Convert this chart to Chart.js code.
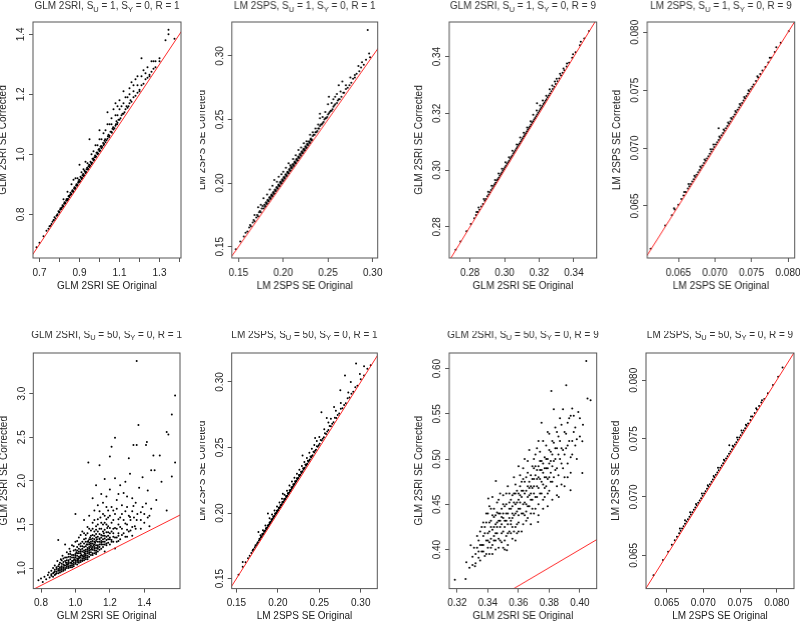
<!DOCTYPE html>
<html>
<head>
<meta charset="utf-8">
<script src="https://cdn.jsdelivr.net/npm/chart.js@4.4.0/dist/chart.umd.min.js"></script>
<style>
html, body { margin:0; padding:0; background:#fff; width:800px; height:623px; overflow:hidden; position:relative; }
.panel { position:absolute; }
</style>
</head>
<body>
<script>
// ---- data: [original SE, corrected SE] ----
const glmSu1R1 = [[0.685,0.69],[0.70,0.705],[0.72,0.727],[0.735,0.745],[0.745,0.752],[0.75,0.76],[0.76,0.768],[0.765,0.775],[0.77,0.78],[0.775,0.79],[0.78,0.786],[0.785,0.795],[0.79,0.80],[0.795,0.81],[0.80,0.808],[0.805,0.82],[0.81,0.818],[0.815,0.83],[0.82,0.827],[0.825,0.84],[0.83,0.838],[0.835,0.85],[0.84,0.846],[0.845,0.86],[0.85,0.858],[0.855,0.872],[0.86,0.868],[0.865,0.88],[0.87,0.877],[0.875,0.89],[0.88,0.888],[0.885,0.90],[0.89,0.898],[0.895,0.91],[0.90,0.908],[0.905,0.925],[0.91,0.918],[0.915,0.93],[0.92,0.928],[0.925,0.945],[0.93,0.938],[0.935,0.95],[0.94,0.949],[0.945,0.96],[0.95,0.958],[0.955,0.975],[0.96,0.968],[0.965,0.985],[0.97,0.979],[0.975,0.99],[0.98,0.99],[0.985,1.005],[0.99,1.0],[0.995,1.015],[1.00,1.01],[1.005,1.025],[1.01,1.02],[1.02,1.03],[1.025,1.045],[1.03,1.04],[1.04,1.052],[1.045,1.065],[1.05,1.062],[1.06,1.075],[1.065,1.085],[1.07,1.083],[1.08,1.095],[1.085,1.11],[1.09,1.105],[1.10,1.115],[1.11,1.13],[1.12,1.135],[1.13,1.15],[1.14,1.155],[1.15,1.17],[1.16,1.175],[1.18,1.195],[1.20,1.215],[1.22,1.235],[1.24,1.255],[1.26,1.275],[1.28,1.29],[1.30,1.31],
  [0.755,0.762],[0.772,0.781],[0.788,0.797],[0.798,0.806],[0.803,0.815],[0.812,0.823],[0.818,0.826],[0.823,0.835],[0.828,0.836],[0.833,0.845],[0.838,0.851],[0.843,0.851],[0.848,0.862],[0.853,0.864],[0.858,0.866],[0.863,0.877],[0.868,0.874],[0.873,0.886],[0.878,0.884],[0.883,0.896],[0.888,0.895],[0.893,0.905],[0.898,0.915],[0.903,0.911],[0.908,0.922],[0.913,0.921],[0.918,0.934],[0.923,0.930],[0.928,0.942],[0.933,0.941],[0.938,0.955],[0.943,0.951],[0.948,0.965],[0.953,0.962],[0.958,0.972],[0.963,0.972],[0.968,0.985],[0.973,0.982],[0.978,0.996],[0.983,0.993],[0.988,1.006],[0.993,1.003],[0.998,1.018],[1.003,1.013],[1.008,1.028],[1.013,1.024],[1.018,1.038],[1.023,1.034],[1.028,1.05],[1.035,1.047],[1.042,1.06],[1.048,1.058],[1.055,1.075],[1.062,1.072],[1.068,1.09],[1.075,1.087],[1.082,1.10],[1.088,1.10],[1.095,1.115],[1.105,1.12],[1.115,1.135],[1.125,1.14],[1.135,1.16],[1.145,1.16],[1.155,1.18],[1.17,1.19],[1.19,1.205],[1.21,1.23],[1.23,1.25],[1.25,1.265],[1.27,1.285],
  [0.82,0.85],[0.84,0.875],[0.86,0.90],[0.87,0.915],[0.88,0.92],[0.89,0.92],[0.90,0.965],[0.91,0.94],[0.92,0.95],[0.93,0.975],[0.94,0.97],[0.95,1.05],[0.96,1.0],[0.97,1.01],[0.98,1.03],[0.99,1.03],[1.0,1.08],[1.0,1.05],[1.01,1.05],[1.02,1.07],[1.03,1.08],[1.04,1.14],[1.04,1.10],[1.05,1.10],[1.06,1.12],[1.06,1.10],[1.07,1.15],[1.08,1.17],[1.08,1.13],[1.09,1.16],[1.09,1.13],[1.10,1.18],[1.10,1.15],[1.11,1.16],[1.12,1.21],[1.12,1.17],[1.13,1.19],[1.14,1.19],[1.15,1.20],[1.15,1.22],[1.16,1.24],[1.17,1.21],[1.17,1.23],[1.18,1.25],[1.19,1.23],[1.19,1.26],[1.20,1.21],[1.21,1.32],[1.21,1.26],[1.22,1.28],[1.23,1.27],[1.24,1.29],[1.25,1.26],[1.26,1.31],[1.27,1.31],[1.28,1.31],[1.30,1.32],[1.33,1.38],[1.345,1.40],[1.345,1.415],[1.375,1.385]];

const lmSu1R1 = [[0.147,0.148],[0.152,0.154],[0.156,0.158],[0.160,0.162],[0.162,0.165],[0.164,0.166],[0.166,0.169],[0.168,0.170],[0.170,0.173],[0.172,0.174],[0.173,0.177],[0.175,0.177],[0.176,0.180],[0.178,0.180],[0.179,0.183],[0.180,0.182],[0.181,0.185],[0.182,0.184],[0.183,0.187],[0.184,0.186],[0.185,0.189],[0.186,0.188],[0.187,0.191],[0.188,0.190],[0.189,0.193],[0.190,0.192],[0.191,0.195],[0.192,0.194],[0.193,0.197],[0.194,0.196],[0.195,0.199],[0.196,0.198],[0.197,0.201],[0.198,0.200],[0.199,0.203],[0.200,0.202],[0.201,0.205],[0.202,0.204],[0.203,0.207],[0.204,0.206],[0.205,0.209],[0.206,0.208],[0.207,0.211],[0.208,0.210],[0.209,0.213],[0.210,0.212],[0.211,0.215],[0.212,0.214],[0.213,0.217],[0.214,0.216],[0.215,0.219],[0.216,0.218],[0.217,0.221],[0.218,0.220],[0.219,0.223],[0.220,0.222],[0.221,0.225],[0.222,0.224],[0.223,0.227],[0.224,0.226],[0.225,0.229],[0.226,0.228],[0.227,0.231],[0.228,0.230],[0.229,0.233],[0.230,0.232],[0.231,0.235],[0.232,0.234],[0.233,0.237],[0.235,0.238],[0.236,0.240],[0.238,0.241],[0.240,0.243],[0.241,0.245],[0.243,0.246],[0.245,0.248],[0.247,0.251],[0.249,0.252],[0.251,0.255],[0.253,0.257],[0.255,0.258],[0.257,0.261],[0.260,0.263],[0.262,0.266],[0.265,0.268],[0.268,0.271],[0.272,0.275],[0.276,0.279],[0.280,0.283],[0.285,0.288],[0.290,0.293],[0.297,0.299],
  [0.158,0.161],[0.163,0.167],[0.167,0.171],[0.171,0.175],[0.174,0.178],[0.177,0.182],[0.1795,0.1815],[0.1805,0.1845],[0.1815,0.1835],[0.1825,0.1865],[0.1835,0.1855],[0.1845,0.1885],[0.1855,0.1875],[0.1865,0.1905],[0.1875,0.1895],[0.1885,0.1925],[0.1895,0.1915],[0.1905,0.1945],[0.1915,0.1935],[0.1925,0.1965],[0.1935,0.1955],[0.1945,0.1985],[0.1955,0.1975],[0.1965,0.2005],[0.1975,0.1995],[0.1985,0.2025],[0.1995,0.2015],[0.2005,0.2045],[0.2015,0.2035],[0.2025,0.2065],[0.2035,0.2055],[0.2045,0.2085],[0.2055,0.2075],[0.2065,0.2105],[0.2075,0.2095],[0.2085,0.2125],[0.2095,0.2115],[0.2105,0.2145],[0.2115,0.2135],[0.2125,0.2165],[0.2135,0.2155],[0.2145,0.2185],[0.2155,0.2175],[0.2165,0.2205],[0.2175,0.2195],[0.2185,0.2225],[0.2195,0.2215],[0.2205,0.2245],[0.2215,0.2235],[0.2225,0.2265],[0.2235,0.2255],[0.2245,0.2285],[0.2255,0.2275],[0.2265,0.2305],[0.2275,0.2295],[0.2285,0.2325],[0.2295,0.2315],[0.2305,0.2345],[0.2315,0.2335],[0.234,0.238],[0.237,0.240],[0.239,0.243],[0.242,0.246],[0.244,0.247],[0.246,0.250],[0.248,0.251],[0.250,0.254],[0.252,0.256],[0.254,0.257],[0.256,0.260],[0.258,0.262],[0.261,0.265],[0.263,0.266],[0.267,0.271],[0.270,0.274],[0.274,0.277],[0.278,0.282],[0.282,0.286],[0.287,0.291],
  [0.168,0.175],[0.172,0.181],[0.175,0.183],[0.178,0.188],[0.182,0.191],[0.185,0.195],[0.188,0.198],[0.190,0.2025],[0.193,0.201],[0.195,0.205],[0.198,0.207],[0.200,0.209],[0.203,0.212],[0.206,0.2156],[0.208,0.214],[0.211,0.219],[0.214,0.222],[0.217,0.226],[0.220,0.228],[0.223,0.2313],[0.226,0.233],[0.230,0.238],[0.233,0.240],[0.236,0.243],[0.239,0.246],[0.241,0.251],[0.241,0.2545],[0.244,0.252],[0.247,0.256],[0.250,0.262],[0.251,0.268],[0.254,0.263],[0.256,0.266],[0.258,0.268],[0.260,0.270],[0.262,0.277],[0.264,0.272],[0.266,0.280],[0.270,0.277],[0.275,0.283],[0.280,0.285],[0.284,0.292],[0.288,0.295],[0.2925,0.297],[0.296,0.302],[0.2944,0.3205]];

const glmSu1R9 = [[0.2717,0.2719],[0.2745,0.2748],[0.2780,0.2784],[0.2805,0.2810],[0.2825,0.2830],[0.2835,0.2842],[0.2845,0.2852],[0.2855,0.2860],[0.2865,0.2872],[0.2875,0.2880],[0.2885,0.2892],[0.2892,0.2898],[0.2900,0.2908],[0.2908,0.2914],[0.2915,0.2922],[0.2922,0.2930],[0.2930,0.2936],[0.2936,0.2944],[0.2942,0.2950],[0.2948,0.2955],[0.2955,0.2963],[0.2960,0.2968],[0.2966,0.2973],[0.2972,0.2980],[0.2978,0.2986],[0.2984,0.2991],[0.2990,0.2998],[0.2996,0.3004],[0.3002,0.3010],[0.3008,0.3015],[0.3014,0.3022],[0.3020,0.3028],[0.3026,0.3033],[0.3032,0.3040],[0.3038,0.3046],[0.3044,0.3051],[0.3050,0.3058],[0.3056,0.3064],[0.3062,0.3070],[0.3068,0.3076],[0.3074,0.3081],[0.3080,0.3088],[0.3086,0.3094],[0.3092,0.3100],[0.3098,0.3106],[0.3104,0.3112],[0.3110,0.3118],[0.3116,0.3124],[0.3122,0.3130],[0.3128,0.3136],[0.3134,0.3142],[0.3140,0.3148],[0.3146,0.3154],[0.3152,0.3160],[0.3158,0.3167],[0.3164,0.3172],[0.3170,0.3178],[0.3176,0.3184],[0.3182,0.3190],[0.3188,0.3196],[0.3194,0.3202],[0.3200,0.3208],[0.3206,0.3214],[0.3212,0.3220],[0.3218,0.3226],[0.3224,0.3233],[0.3230,0.3238],[0.3236,0.3244],[0.3242,0.3250],[0.3248,0.3257],[0.3255,0.3263],[0.3262,0.3270],[0.3270,0.3278],[0.3278,0.3286],[0.3286,0.3294],[0.3295,0.3303],[0.3305,0.3313],[0.3315,0.3323],[0.3325,0.3333],[0.3335,0.3343],[0.3345,0.3352],[0.3358,0.3365],[0.3372,0.3378],[0.3390,0.3396],[0.3410,0.3415],[0.3435,0.3440],[0.3460,0.3464],[0.3488,0.3490],
  [0.2838,0.2852],[0.2850,0.2868],[0.2880,0.2898],[0.2905,0.2924],[0.2925,0.2945],[0.2945,0.2965],[0.2965,0.2988],[0.2985,0.3005],[0.3005,0.3028],[0.3025,0.3045],[0.3045,0.3068],[0.3070,0.3090],[0.3090,0.3115],[0.3110,0.3132],[0.3130,0.3150],[0.3150,0.3172],[0.3165,0.3195],[0.3187,0.3236],[0.3185,0.3210],[0.3205,0.3228],[0.3220,0.3245],[0.3240,0.3262],[0.3260,0.3285],[0.3275,0.3298],[0.3290,0.3312],[0.3300,0.3322],[0.3320,0.3340],[0.3340,0.3358],[0.3360,0.3376],[0.3395,0.3408],[0.3440,0.3452]];

const lmSu1R9 = [[0.0612,0.0613],[0.0632,0.0633],[0.0641,0.0642],[0.0645,0.0647],[0.0650,0.0651],[0.0654,0.0656],[0.0657,0.0659],[0.0660,0.0662],[0.0663,0.0665],[0.0665,0.0667],[0.0667,0.0669],[0.0669,0.0671],[0.0671,0.0673],[0.0673,0.0675],[0.0675,0.0677],[0.0677,0.0679],[0.0679,0.0681],[0.0681,0.0683],[0.0683,0.0685],[0.0685,0.0687],[0.0687,0.0689],[0.0689,0.0691],[0.0691,0.0693],[0.0693,0.0695],[0.0695,0.0697],[0.0697,0.0699],[0.0699,0.0701],[0.0701,0.0703],[0.0703,0.0705],[0.0705,0.0707],[0.0707,0.0709],[0.0709,0.0711],[0.0711,0.0713],[0.0713,0.0715],[0.0715,0.0717],[0.0717,0.0719],[0.0719,0.0721],[0.0721,0.0723],[0.0723,0.0725],[0.0725,0.0727],[0.0727,0.0729],[0.0729,0.0731],[0.0731,0.0733],[0.0733,0.0735],[0.0735,0.0737],[0.0737,0.0739],[0.0739,0.0741],[0.0741,0.0743],[0.0743,0.0745],[0.0745,0.0747],[0.0747,0.0749],[0.0749,0.0751],[0.0751,0.0753],[0.0753,0.0755],[0.0756,0.0758],[0.0759,0.0761],[0.0762,0.0764],[0.0765,0.0767],[0.0769,0.0770],[0.0773,0.0774],[0.0777,0.0778],[0.0782,0.0783],[0.0790,0.0791],[0.0801,0.0801],
  [0.0644,0.0648],[0.0658,0.0662],[0.0664,0.0669],[0.0672,0.0676],[0.0680,0.0684],[0.0686,0.0690],[0.0694,0.0699],[0.0698,0.0703],[0.0705,0.0717],[0.0706,0.0710],[0.0712,0.0716],[0.0718,0.0722],[0.0722,0.0726],[0.0728,0.0732],[0.0734,0.0738],[0.0740,0.0744],[0.0746,0.0750],[0.0758,0.0762],[0.0775,0.0778],[0.0784,0.0787]];

const glmSu50R1 = [[0.785,0.86],[0.80,0.88],[0.81,0.84],[0.82,0.90],[0.83,0.87],[0.84,0.92],[0.845,0.95],[0.85,0.89],[0.86,0.97],[0.86,0.93],[0.87,0.90],[0.87,1.00],[0.875,0.95],[0.88,0.98],[0.88,1.03],[0.885,0.93],[0.89,0.96],[0.89,1.01],[0.895,1.08],[0.90,0.94],[0.90,0.99],[0.90,1.32],[0.905,1.04],[0.91,0.97],[0.91,1.01],[0.915,1.10],[0.92,0.96],[0.92,1.05],[0.92,1.00],[0.925,1.14],[0.93,0.99],[0.93,1.07],[0.935,1.03],[0.94,1.00],[0.94,1.12],[0.94,1.27],[0.945,1.06],[0.95,1.02],[0.95,1.09],[0.95,1.18],[0.955,1.04],[0.96,1.00],[0.96,1.13],[0.96,1.07],[0.965,1.22],[0.97,1.03],[0.97,1.10],[0.97,1.16],[0.975,1.06],[0.98,1.01],[0.98,1.12],[0.98,1.26],[0.985,1.08],[0.99,1.04],[0.99,1.15],[0.99,1.20],[0.995,1.10],[1.00,1.05],[1.00,1.12],[1.00,1.30],[1.00,1.62],[1.005,1.18],[1.01,1.07],[1.01,1.14],[1.01,1.24],[1.015,1.10],[1.02,1.06],[1.02,1.17],[1.02,1.35],[1.025,1.12],[1.03,1.09],[1.03,1.21],[1.03,1.28],[1.035,1.15],[1.04,1.08],[1.04,1.19],[1.04,1.42],[1.045,1.13],[1.05,1.11],[1.05,1.24],[1.05,1.33],[1.05,1.55],[1.055,1.17],[1.06,1.12],[1.06,1.21],[1.06,1.38],[1.065,1.27],[1.07,1.14],[1.07,1.19],[1.07,1.47],[1.075,1.31],[1.075,2.21],[1.08,1.16],[1.08,1.24],[1.08,1.60],[1.085,1.35],[1.09,1.18],[1.09,1.28],[1.09,1.43],[1.095,1.22],[1.10,1.15],[1.10,1.31],[1.10,1.52],[1.10,1.80],[1.105,1.26],[1.11,1.20],[1.11,1.37],[1.11,1.66],[1.115,1.29],[1.12,1.23],[1.12,1.44],[1.12,1.95],[1.125,1.33],[1.13,1.26],[1.13,1.50],[1.13,1.72],[1.14,1.30],[1.14,1.39],[1.14,2.18],[1.145,1.58],[1.15,1.27],[1.15,1.45],[1.15,1.85],[1.16,1.33],[1.16,1.62],[1.165,1.40],[1.17,1.30],[1.17,1.52],[1.17,2.02],[1.18,1.36],[1.18,1.70],[1.185,1.46],[1.19,1.33],[1.19,1.58],[1.20,1.40],[1.20,2.28],[1.20,1.90],[1.21,1.52],[1.21,2.39],[1.22,1.36],[1.22,1.66],[1.23,2.495],[1.23,1.46],[1.23,2.03],[1.24,1.78],[1.25,1.40],[1.25,1.56],[1.26,1.47],[1.26,1.95],[1.27,1.62],[1.27,1.38],[1.28,1.86],[1.29,1.51],[1.29,1.99],[1.30,1.44],[1.30,1.70],[1.31,2.26],[1.317,2.08],[1.317,1.585],[1.32,1.43],[1.33,1.80],[1.337,1.71],[1.337,2.41],[1.345,1.48],[1.356,3.374],[1.356,1.55],[1.356,2.41],[1.366,2.64],[1.37,1.92],[1.38,1.64],[1.39,2.04],[1.40,1.52],[1.41,2.41],[1.41,1.74],[1.415,2.445],[1.42,1.89],[1.43,1.60],[1.44,2.12],[1.453,2.29],[1.46,2.12],[1.47,1.78],[1.49,2.29],[1.50,1.99],[1.53,2.56],[1.53,1.66],[1.54,2.53],[1.56,2.76],[1.56,2.05],[1.579,2.98],[1.579,2.21],
  [1.00,1.16],[1.01,1.20],[1.02,1.22],[1.03,1.14],[1.04,1.25],[1.05,1.20],[1.06,1.16],[1.06,1.30],[1.07,1.23],[1.08,1.29],[1.09,1.24],[1.10,1.21],[1.10,1.38],[1.11,1.27],[1.12,1.31],[1.13,1.36],[1.14,1.24],[1.15,1.35],[1.16,1.42],[1.17,1.37],[1.18,1.50],[0.96,1.09],[0.97,1.13],[0.98,1.05],[0.99,1.09],[0.95,1.06],[0.93,1.04],[1.00,1.09],[1.01,1.11],[1.02,1.13],[1.03,1.17],[1.04,1.11],[1.05,1.15],[1.07,1.27],[1.08,1.20],[1.09,1.33],[1.11,1.24],[1.12,1.18],[1.13,1.22],[1.14,1.34],[1.15,1.31],[1.16,1.27],[1.18,1.28],[1.19,1.41],[1.20,1.33],[1.21,1.30],[1.22,1.45],[1.24,1.35],
  [1.07,1.10],[1.12,1.16],[1.17,1.19],[1.23,1.225],[1.25,1.31],[1.30,1.36],[1.33,1.37],[1.38,1.45],[1.43,1.48],
  [0.86,0.91],[0.87,0.94],[0.88,0.92],[0.88,0.96],[0.89,0.94],[0.89,0.99],[0.90,0.97],[0.90,1.02],[0.91,0.95],[0.91,0.99],[0.91,1.06],[0.92,0.98],[0.92,1.02],[0.92,1.09],[0.93,0.97],[0.93,1.01],[0.93,1.11],[0.94,0.98],[0.94,1.03],[0.94,1.08],[0.95,1.00],[0.95,1.04],[0.95,1.12],[0.96,1.02],[0.96,1.05],[0.96,1.16],[0.97,1.01],[0.97,1.06],[0.97,1.19],[0.98,1.03],[0.98,1.08],[0.98,1.15],[0.99,1.02],[0.99,1.06],[0.99,1.12],[0.99,1.25],[1.00,1.07],[1.00,1.14],[1.00,1.21],[1.01,1.04],[1.01,1.09],[1.01,1.17],[1.01,1.31],[1.02,1.08],[1.02,1.11],[1.02,1.19],[1.02,1.27],[1.03,1.07],[1.03,1.12],[1.03,1.19],[1.03,1.25],[1.03,1.38],[1.04,1.09],[1.04,1.14],[1.04,1.22],[1.04,1.30],[1.05,1.09],[1.05,1.13],[1.05,1.18],[1.05,1.28],[1.05,1.40],[1.06,1.10],[1.06,1.14],[1.06,1.19],[1.06,1.25],[1.06,1.34],[1.07,1.12],[1.07,1.17],[1.07,1.21],[1.07,1.30],[1.07,1.40],[1.08,1.13],[1.08,1.18],[1.08,1.22],[1.08,1.27],[1.08,1.33],[1.08,1.45],[1.09,1.15],[1.09,1.21],[1.09,1.26],[1.09,1.30],[1.09,1.37],[1.10,1.17],[1.10,1.24],[1.10,1.28],[1.10,1.34],[1.10,1.45],[1.11,1.17],[1.11,1.22],[1.11,1.30],[1.11,1.33],[1.11,1.42],[1.11,1.55],[1.12,1.20],[1.12,1.26],[1.12,1.35],[1.12,1.39],[1.12,1.48],[1.13,1.19],[1.13,1.24],[1.13,1.30],[1.13,1.42],[1.13,1.56],[1.14,1.21],[1.14,1.27],[1.14,1.33],[1.14,1.45],[1.14,1.65],[1.15,1.22],[1.15,1.29],[1.15,1.38],[1.15,1.52],[1.16,1.24],[1.16,1.30],[1.16,1.37],[1.16,1.50],[1.16,1.75],[1.17,1.27],[1.17,1.34],[1.17,1.44],[1.17,1.60],[1.18,1.26],[1.18,1.32],[1.18,1.41],[1.18,1.56],[1.18,1.82],[1.19,1.29],[1.19,1.37],[1.19,1.48],[1.19,1.66],[1.20,1.27],[1.20,1.35],[1.20,1.46],[1.20,1.60],[1.21,1.32],[1.21,1.42],[1.21,1.70],[1.22,1.30],[1.22,1.40],[1.22,1.55],[1.23,1.35],[1.23,1.62],[1.24,1.30],[1.24,1.45],[1.24,1.68],[1.25,1.37],[1.25,1.50],[1.25,1.85],[1.26,1.33],[1.26,1.58],[1.27,1.45],[1.27,1.72],[1.28,1.40],[1.28,1.55],[1.29,1.36],[1.29,1.65],[1.30,1.50],[1.30,1.82],[1.31,1.42],[1.31,1.60],[1.32,1.55],[1.33,1.47],[1.33,1.65],[1.34,1.58],[1.35,1.45],[1.35,1.75],[1.36,1.62],[1.38,1.55],[1.39,1.70],[1.40,1.62],[1.42,1.58],[1.44,1.68]];

const lmSu50R1 = [[0.1525,0.1530],[0.1576,0.1590],[0.1610,0.1625],[0.1640,0.1655],[0.1660,0.1675],[0.1680,0.1695],[0.1695,0.1712],[0.1710,0.1725],[0.1722,0.1740],[0.1735,0.1750],[0.1748,0.1765],[0.1760,0.1776],[0.1772,0.1790],[0.1784,0.1800],[0.1795,0.1813],[0.1806,0.1823],[0.1817,0.1835],[0.1828,0.1845],[0.1839,0.1857],[0.1850,0.1867],[0.1861,0.1879],[0.1872,0.1889],[0.1883,0.1901],[0.1894,0.1912],[0.1905,0.1923],[0.1916,0.1934],[0.1927,0.1945],[0.1938,0.1956],[0.1949,0.1967],[0.1960,0.1978],[0.1971,0.1989],[0.1982,0.2000],[0.1993,0.2011],[0.2004,0.2023],[0.2015,0.2034],[0.2026,0.2045],[0.2037,0.2056],[0.2048,0.2067],[0.2059,0.2078],[0.2070,0.2089],[0.2081,0.2100],[0.2092,0.2111],[0.2103,0.2122],[0.2114,0.2133],[0.2125,0.2145],[0.2136,0.2156],[0.2147,0.2167],[0.2158,0.2178],[0.2169,0.2189],[0.2180,0.2200],[0.2191,0.2211],[0.2202,0.2222],[0.2213,0.2233],[0.2224,0.2245],[0.2236,0.2256],[0.2248,0.2268],[0.2260,0.2281],[0.2272,0.2293],[0.2285,0.2306],[0.2298,0.2319],[0.2311,0.2332],[0.2325,0.2346],[0.2340,0.2361],[0.2355,0.2377],[0.2370,0.2392],[0.2386,0.2408],[0.2402,0.2424],[0.2420,0.2442],[0.2440,0.2462],[0.2460,0.2483],[0.2482,0.2505],[0.2505,0.2528],[0.2530,0.2553],[0.2555,0.2578],[0.2582,0.2604],[0.2610,0.2633],[0.2640,0.2662],[0.2672,0.2693],[0.2705,0.2726],[0.2740,0.2760],[0.2780,0.2800],[0.2820,0.2838],[0.2865,0.2882],[0.2910,0.2925],[0.2960,0.2972],[0.3040,0.3050],[0.3120,0.3128],
  [0.1700,0.1720],[0.1730,0.1755],[0.1755,0.1775],[0.1778,0.1805],[0.1800,0.1820],[0.1812,0.1840],[0.1822,0.1842],[0.1834,0.1862],[0.1845,0.1866],[0.1856,0.1885],[0.1867,0.1888],[0.1878,0.1906],[0.1889,0.1910],[0.1900,0.1929],[0.1911,0.1932],[0.1922,0.1951],[0.1933,0.1954],[0.1944,0.1973],[0.1955,0.1976],[0.1966,0.1996],[0.1977,0.1998],[0.1988,0.2018],[0.1999,0.2020],[0.2010,0.2040],[0.2021,0.2042],[0.2032,0.2062],[0.2043,0.2064],[0.2054,0.2085],[0.2065,0.2086],[0.2076,0.2107],[0.2087,0.2108],[0.2098,0.2130],[0.2109,0.2131],[0.2120,0.2152],[0.2131,0.2153],[0.2142,0.2175],[0.2153,0.2175],[0.2164,0.2197],[0.2175,0.2197],[0.2186,0.2220],[0.2197,0.2220],[0.2208,0.2242],[0.2219,0.2242],[0.2230,0.2265],[0.2242,0.2265],[0.2254,0.2290],[0.2266,0.2290],[0.2279,0.2315],[0.2292,0.2315],[0.2305,0.2342],[0.2318,0.2342],[0.2332,0.2370],[0.2347,0.2370],[0.2362,0.2400],[0.2378,0.2402],[0.2394,0.2432],[0.2411,0.2436],[0.2430,0.2468],[0.2450,0.2475],[0.2471,0.2510],[0.2493,0.2518],[0.2517,0.2557],[0.2542,0.2567],[0.2568,0.2608],[0.2596,0.2622],[0.2625,0.2665],[0.2656,0.2682],[0.2688,0.2728],[0.2722,0.2748],[0.2760,0.2795],[0.2800,0.2825],[0.2842,0.2875],[0.2888,0.2910],[0.2935,0.2960],[0.3000,0.3020],[0.3080,0.3100],
  [0.1576,0.1627],[0.1766,0.1855],[0.1790,0.1830],[0.1820,0.1870],[0.1850,0.1905],[0.1880,0.1996],[0.1900,0.1960],[0.1930,0.1990],[0.1960,0.2020],[0.1990,0.2050],[0.2020,0.2080],[0.2060,0.2148],[0.2050,0.2110],[0.2080,0.2140],[0.2110,0.2170],[0.2140,0.2210],[0.2170,0.2240],[0.2200,0.2270],[0.2230,0.2300],[0.2260,0.2330],[0.2298,0.2440],[0.2290,0.2360],[0.2320,0.2390],[0.2350,0.2420],[0.2380,0.2460],[0.2410,0.2490],[0.2450,0.2573],[0.2440,0.2520],[0.2470,0.2550],[0.2500,0.2580],[0.2526,0.2770],[0.2560,0.2640],[0.2590,0.2725],[0.2610,0.2690],[0.2640,0.2720],[0.2678,0.2809],[0.2700,0.2780],[0.2754,0.2936],[0.2760,0.2840],[0.2810,0.3050],[0.2850,0.2920],[0.2880,0.3000],[0.2944,0.3140],[0.2990,0.3060],[0.3040,0.3120]];

const glmSu50R9 = [[0.3185,0.3668],[0.3255,0.3676],[0.326,0.386],[0.328,0.380],[0.3288,0.4048],[0.330,0.383],[0.3316,0.3815],[0.332,0.395],[0.333,0.402],[0.334,0.391],[0.334,0.410],[0.335,0.420],[0.336,0.398],[0.336,0.405],[0.337,0.430],[0.337,0.415],[0.338,0.393],[0.338,0.425],[0.339,0.410],[0.339,0.440],[0.340,0.402],[0.340,0.418],[0.3403,0.4564],[0.341,0.430],[0.341,0.395],[0.342,0.412],[0.342,0.445],[0.343,0.422],[0.343,0.405],[0.344,0.436],[0.344,0.415],[0.345,0.428],[0.3452,0.4758],[0.345,0.400],[0.346,0.441],[0.346,0.418],[0.347,0.432],[0.347,0.455],[0.348,0.410],[0.348,0.425],[0.349,0.445],[0.349,0.436],[0.350,0.420],[0.350,0.460],[0.350,0.402],[0.351,0.432],[0.351,0.448],[0.352,0.415],[0.352,0.440],[0.3524,0.3993],[0.353,0.428],[0.353,0.470],[0.354,0.452],[0.354,0.435],[0.355,0.418],[0.355,0.445],[0.356,0.460],[0.356,0.425],[0.357,0.438],[0.357,0.480],[0.358,0.450],[0.358,0.410],[0.359,0.442],[0.359,0.465],[0.360,0.430],[0.360,0.455],[0.360,0.492],[0.361,0.445],[0.361,0.470],[0.362,0.420],[0.362,0.458],[0.363,0.440],[0.363,0.478],[0.364,0.452],[0.364,0.500],[0.365,0.465],[0.365,0.432],[0.366,0.448],[0.366,0.485],[0.367,0.460],[0.367,0.510],[0.368,0.470],[0.368,0.440],[0.369,0.455],[0.369,0.492],[0.370,0.478],[0.370,0.462],[0.371,0.505],[0.371,0.445],[0.372,0.470],[0.372,0.488],[0.3727,0.4305],[0.373,0.480],[0.373,0.520],[0.374,0.462],[0.374,0.498],[0.375,0.475],[0.375,0.540],[0.376,0.485],[0.376,0.455],[0.377,0.502],[0.377,0.468],[0.378,0.490],[0.378,0.515],[0.379,0.478],[0.379,0.530],[0.380,0.495],[0.380,0.465],[0.381,0.508],[0.381,0.485],[0.382,0.520],[0.382,0.475],[0.3814,0.5753],[0.383,0.498],[0.383,0.555],[0.384,0.512],[0.384,0.488],[0.385,0.530],[0.385,0.470],[0.386,0.505],[0.3862,0.458],[0.387,0.520],[0.387,0.545],[0.388,0.495],[0.389,0.555],[0.389,0.510],[0.390,0.530],[0.390,0.480],[0.3911,0.5815],[0.391,0.512],[0.392,0.540],[0.392,0.495],[0.393,0.520],[0.3939,0.4655],[0.394,0.548],[0.395,0.556],[0.395,0.505],[0.396,0.530],[0.397,0.515],[0.398,0.500],[0.399,0.552],[0.400,0.525],[0.4016,0.5197],[0.4016,0.4847],[0.4042,0.6084],[0.405,0.567],[0.407,0.565],
  [0.350,0.440],[0.352,0.450],[0.355,0.432],[0.357,0.452],[0.359,0.428],[0.361,0.460],[0.363,0.465],[0.365,0.450],[0.367,0.475],[0.369,0.468],[0.371,0.482],[0.373,0.492],[0.375,0.488],[0.377,0.480],[0.379,0.500],[0.346,0.425],[0.348,0.440],[0.344,0.425],[0.342,0.432],[0.354,0.420],[0.356,0.440],[0.358,0.462],[0.360,0.445],[0.362,0.475],[0.364,0.438],[0.366,0.470],[0.368,0.455],[0.370,0.490],[0.372,0.458],[0.374,0.478],[0.376,0.495],[0.378,0.470],[0.380,0.480],
  [0.333,0.415],[0.335,0.405],[0.336,0.425],[0.337,0.398],[0.338,0.418],[0.339,0.430],[0.340,0.410],[0.340,0.440],[0.341,0.420],[0.341,0.448],[0.342,0.402],[0.342,0.425],[0.343,0.438],[0.343,0.458],[0.344,0.410],[0.344,0.445],[0.345,0.418],[0.345,0.438],[0.346,0.430],[0.346,0.452],[0.347,0.412],[0.347,0.440],[0.348,0.432],[0.348,0.462],[0.349,0.418],[0.349,0.428],[0.350,0.435],[0.350,0.450],[0.351,0.410],[0.351,0.425],[0.352,0.432],[0.352,0.462],[0.353,0.440],[0.353,0.418],[0.354,0.445],[0.354,0.462],[0.355,0.428],[0.355,0.455],[0.356,0.435],[0.356,0.448],[0.357,0.420],[0.357,0.462],[0.358,0.440],[0.358,0.472],[0.359,0.452],[0.359,0.418],[0.360,0.462],[0.360,0.438],[0.361,0.452],[0.361,0.482],[0.362,0.440],[0.362,0.465],[0.363,0.450],[0.363,0.490],[0.364,0.462],[0.364,0.475],[0.365,0.442],[0.365,0.480],[0.366,0.458],[0.366,0.498],[0.367,0.448],[0.367,0.468],[0.368,0.482],[0.368,0.462],[0.369,0.478],[0.369,0.445],[0.370,0.470],[0.370,0.500],[0.371,0.458],[0.371,0.492],[0.372,0.478],[0.372,0.512],[0.373,0.468],[0.373,0.450],[0.374,0.488],[0.374,0.508],[0.375,0.462],[0.375,0.498],[0.376,0.472],[0.376,0.520],[0.377,0.490],[0.377,0.458],[0.378,0.480],[0.378,0.500],[0.379,0.490],[0.379,0.462],[0.380,0.510],[0.380,0.528],[0.381,0.475],[0.381,0.498],[0.382,0.505],[0.382,0.492],[0.383,0.480],[0.383,0.518],[0.384,0.500],[0.384,0.535],[0.385,0.490],[0.385,0.512],[0.386,0.525],[0.386,0.482],[0.387,0.500],[0.388,0.512],[0.388,0.538],[0.389,0.490],[0.390,0.505],[0.391,0.528],[0.392,0.515],[0.393,0.545],[0.394,0.502],[0.395,0.520],[0.396,0.548],[0.397,0.535],[0.398,0.522],[0.400,0.545],[0.402,0.538],[0.330,0.392],[0.331,0.402],[0.332,0.385],[0.334,0.398],[0.335,0.388],[0.337,0.405],[0.339,0.395],[0.341,0.408],[0.343,0.395],[0.345,0.410],[0.347,0.402],[0.349,0.408],[0.351,0.400],[0.353,0.405],[0.356,0.412],[0.358,0.425],[0.360,0.420],[0.363,0.428],[0.366,0.435],[0.368,0.428],[0.370,0.440],[0.373,0.438],[0.376,0.445],[0.379,0.448],[0.382,0.455],[0.385,0.460],[0.388,0.472],[0.390,0.470],[0.392,0.480],[0.394,0.485]];

const lmSu50R9 = [[0.0632,0.0633],[0.0645,0.0646],[0.0652,0.0653],[0.0657,0.0659],[0.0661,0.0663],[0.0664,0.0666],[0.0667,0.0669],[0.0669,0.0671],[0.0671,0.0673],[0.0673,0.0675],[0.0675,0.0677],[0.0677,0.0679],[0.0679,0.0681],[0.0681,0.0683],[0.0683,0.0685],[0.0685,0.0687],[0.0687,0.0689],[0.0689,0.0691],[0.0691,0.0693],[0.0693,0.0695],[0.0695,0.0697],[0.0697,0.0699],[0.0699,0.0701],[0.0701,0.0703],[0.0703,0.0705],[0.0705,0.0707],[0.0707,0.0709],[0.0709,0.0711],[0.0711,0.0713],[0.0713,0.0715],[0.0715,0.0717],[0.0717,0.0719],[0.0719,0.0721],[0.0721,0.0723],[0.0723,0.0725],[0.0725,0.0727],[0.0727,0.0729],[0.0729,0.0731],[0.0731,0.0733],[0.0733,0.0735],[0.0735,0.0737],[0.0737,0.0739],[0.0739,0.0741],[0.0741,0.0743],[0.0743,0.0745],[0.0745,0.0747],[0.0747,0.0749],[0.0749,0.0751],[0.0751,0.0753],[0.0753,0.0755],[0.0755,0.0757],[0.0757,0.0759],[0.0759,0.0761],[0.0761,0.0763],[0.0764,0.0766],[0.0767,0.0769],[0.0770,0.0772],[0.0773,0.0775],[0.0776,0.0778],[0.0779,0.0781],[0.0783,0.0784],[0.0788,0.0789],[0.0795,0.0796],[0.0802,0.0803],[0.0808,0.0811],
  [0.0668,0.0673],[0.0675,0.0680],[0.0682,0.0687],[0.0690,0.0694],[0.0698,0.0703],[0.0706,0.0710],[0.0714,0.0718],[0.0720,0.0725],[0.0728,0.0732],[0.07354,0.07443],[0.0740,0.0744],[0.0746,0.0751],[0.0752,0.0757],[0.0758,0.0762],[0.0765,0.0769],[0.0772,0.0776],[0.0780,0.0783]];

// ---- panel labels ----
const models = ['GLM 2SRI','LM 2SPS','GLM 2SRI','LM 2SPS','GLM 2SRI','LM 2SPS','GLM 2SRI','LM 2SPS'];
const suValues = [1, 1, 1, 1, 50, 50, 50, 50];
const syValues = [0, 0, 0, 0, 0, 0, 0, 0];
const rValues = [1, 1, 9, 9, 1, 1, 9, 9];
const yWords = ['Corrected','Correted','Corrected','Correted','Corrected','Correted','Corrected','Correted'];

// ---- axis ranges and ticks ----
const xLimits = [[0.6675,1.4075],[0.1426,0.3056],[0.268,0.3532],[0.06073,0.08092],[0.7552,1.6075],[0.1443,0.32],[0.3148,0.411],[0.06218,0.08236]];
const yLimits = [[0.6543,1.441],[0.1411,0.3267],[0.269,0.3522],[0.0605,0.08089],[0.764,3.466],[0.1424,0.3221],[0.3569,0.6172],[0.06215,0.08234]];

const xTicks = [[0.7,0.8,0.9,1.0,1.1,1.2,1.3,1.4],[0.15,0.20,0.25,0.30],[0.28,0.30,0.32,0.34],[0.065,0.070,0.075,0.080],
                [0.8,1.0,1.2,1.4],[0.15,0.20,0.25,0.30],[0.32,0.34,0.36,0.38,0.40],[0.065,0.070,0.075,0.080]];
const xTickLabels = [['0.7','','0.9','','1.1','','1.3',''],['0.15','0.20','0.25','0.30'],['0.28','0.30','0.32','0.34'],['0.065','0.070','0.075','0.080'],
                ['0.8','1.0','1.2','1.4'],['0.15','0.20','0.25','0.30'],['0.32','0.34','0.36','0.38','0.40'],['0.065','0.070','0.075','0.080']];
const yTicks = [[0.8,1.0,1.2,1.4],[0.15,0.20,0.25,0.30],[0.28,0.30,0.32,0.34],[0.065,0.070,0.075,0.080],
                [1.0,1.5,2.0,2.5,3.0],[0.15,0.20,0.25,0.30],[0.40,0.45,0.50,0.55,0.60],[0.065,0.070,0.075,0.080]];
const yTickLabels = [['0.8','1.0','1.2','1.4'],['0.15','0.20','0.25','0.30'],['0.28','0.30','0.32','0.34'],['0.065','0.070','0.075','0.080'],
                ['1.0','1.5','2.0','2.5','3.0'],['0.15','0.20','0.25','0.30'],['0.40','0.45','0.50','0.55','0.60'],['0.065','0.070','0.075','0.080']];

const series = [glmSu1R1, lmSu1R1, glmSu1R9, lmSu1R9, glmSu50R1, lmSu50R1, glmSu50R9, lmSu50R9];

// ---- page layout: plot box left, top, width, height ----
const plotBoxes = [[33,22,148,236],[231.7,22,145,236],[449.3,22,146.7,236],[647.3,22,146.7,236],
                   [33.3,352.7,146.7,235.6],[231.7,352.7,145.6,235.6],[449.3,352.7,146.7,235.6],[646,352.7,148,235.6]];
const colStarts = [0, 200, 400, 600];
const titleGap = [16.5, 18.7];

const FONT = '"Liberation Sans", Arial, Helvetica, sans-serif';
Chart.defaults.font.family = FONT;
Chart.defaults.font.size = 10;
Chart.defaults.color = '#222';

function drawTitle(ctx, i, cx, cy) {
  const parts = [[models[i] + ', S', 0], ['U', 1], [' = ' + suValues[i] + ', S', 0], ['Y', 1], [' = ' + syValues[i] + ', R = ' + rValues[i], 0]];
  const big = '10px ' + FONT, small = '7.5px ' + FONT;
  let total = 0;
  parts.forEach(p => { ctx.font = p[1] ? small : big; total += ctx.measureText(p[0]).width; });
  let x = cx - total / 2;
  ctx.fillStyle = '#333';
  ctx.textAlign = 'left';
  ctx.textBaseline = 'alphabetic';
  parts.forEach(p => {
    ctx.font = p[1] ? small : big;
    ctx.fillText(p[0], x, cy + 3.6 + (p[1] ? 2.4 : 0));
    x += ctx.measureText(p[0]).width;
  });
}

function makePanel(i) {
  const b = plotBoxes[i];
  const row = i < 4 ? 0 : 1;
  const left = Math.max(colStarts[i % 4], b[0] - 40);
  const top = b[1] - 22;
  const yw = b[0] - left;
  const div = document.createElement('div');
  div.className = 'panel';
  div.style.left = left + 'px';
  div.style.top = top + 'px';
  div.style.width = (yw + b[2] + 8) + 'px';
  div.style.height = (22 + b[3] + 40) + 'px';
  const cv = document.createElement('canvas');
  div.appendChild(cv);
  document.body.appendChild(div);

  const xl = xLimits[i], yl = yLimits[i];
  const lo = Math.min(xl[0], yl[0]), hi = Math.max(xl[1], yl[1]);

  const frame = {
    id: 'rFrame' + i,
    afterDatasetsDraw(chart) {
      const {ctx, chartArea: a, scales} = chart;
      ctx.save();
      ctx.strokeStyle = '#555';
      ctx.lineWidth = 1;
      ctx.strokeRect(a.left, a.top, a.right - a.left, a.bottom - a.top);
      ctx.fillStyle = '#222';
      ctx.font = '10px ' + FONT;
      ctx.textAlign = 'center';
      ctx.textBaseline = 'middle';
      yTicks[i].forEach((v, k) => {
        const py = scales.y.getPixelForValue(v);
        ctx.save();
        ctx.translate(a.left - 11.5, py);
        ctx.rotate(-Math.PI / 2);
        ctx.fillText(yTickLabels[i][k], 0, 0);
        ctx.restore();
      });
      drawTitle(ctx, i, (a.left + a.right) / 2, a.top - titleGap[row]);
      ctx.restore();
    }
  };

  new Chart(cv, {
    type: 'scatter',
    data: {
      datasets: [
        { type: 'line', data: [{x: lo, y: lo}, {x: hi, y: hi}], borderColor: '#ff2a2a', borderWidth: 1, pointRadius: 0, fill: false },
        { data: series[i].map(p => ({x: p[0], y: p[1]})), pointRadius: 1, pointBackgroundColor: '#000', pointBorderWidth: 0 }
      ]
    },
    options: {
      responsive: true,
      maintainAspectRatio: false,
      animation: false,
      events: [],
      layout: { padding: { top: 22, right: 8, left: 0, bottom: 0 } },
      plugins: { legend: { display: false }, tooltip: { enabled: false } },
      scales: {
        x: {
          type: 'linear', min: xl[0], max: xl[1],
          afterBuildTicks: s => { s.ticks = xTicks[i].map(v => ({value: v})); },
          afterFit: s => { s.height = 40; s.paddingLeft = 0; s.paddingRight = 0; },
          ticks: { autoSkip: false, maxRotation: 0, minRotation: 0, padding: 5, color: '#222',
                   callback: (v, k) => xTickLabels[i][k] },
          grid: { drawOnChartArea: false, drawTicks: true, tickLength: 4, color: '#555' },
          border: { display: false },
          title: { display: true, text: models[i] + ' SE Original', color: '#222', padding: { top: 0, bottom: 6 } }
        },
        y: {
          type: 'linear', min: yl[0], max: yl[1],
          afterBuildTicks: s => { s.ticks = yTicks[i].map(v => ({value: v})); },
          afterFit: s => { s.width = yw; s.paddingTop = 0; s.paddingBottom = 0; },
          ticks: { display: false },
          grid: { drawOnChartArea: false, drawTicks: true, tickLength: 4, color: '#555' },
          border: { display: false },
          title: { display: true, text: models[i] + ' SE ' + yWords[i], color: '#222',
                   padding: { top: (b[0] - 29.3 - left) - 6, bottom: 0 } }
        }
      }
    },
    plugins: [frame]
  });
}

for (let i = 0; i < 8; i++) makePanel(i);
</script>
</body>
</html>
